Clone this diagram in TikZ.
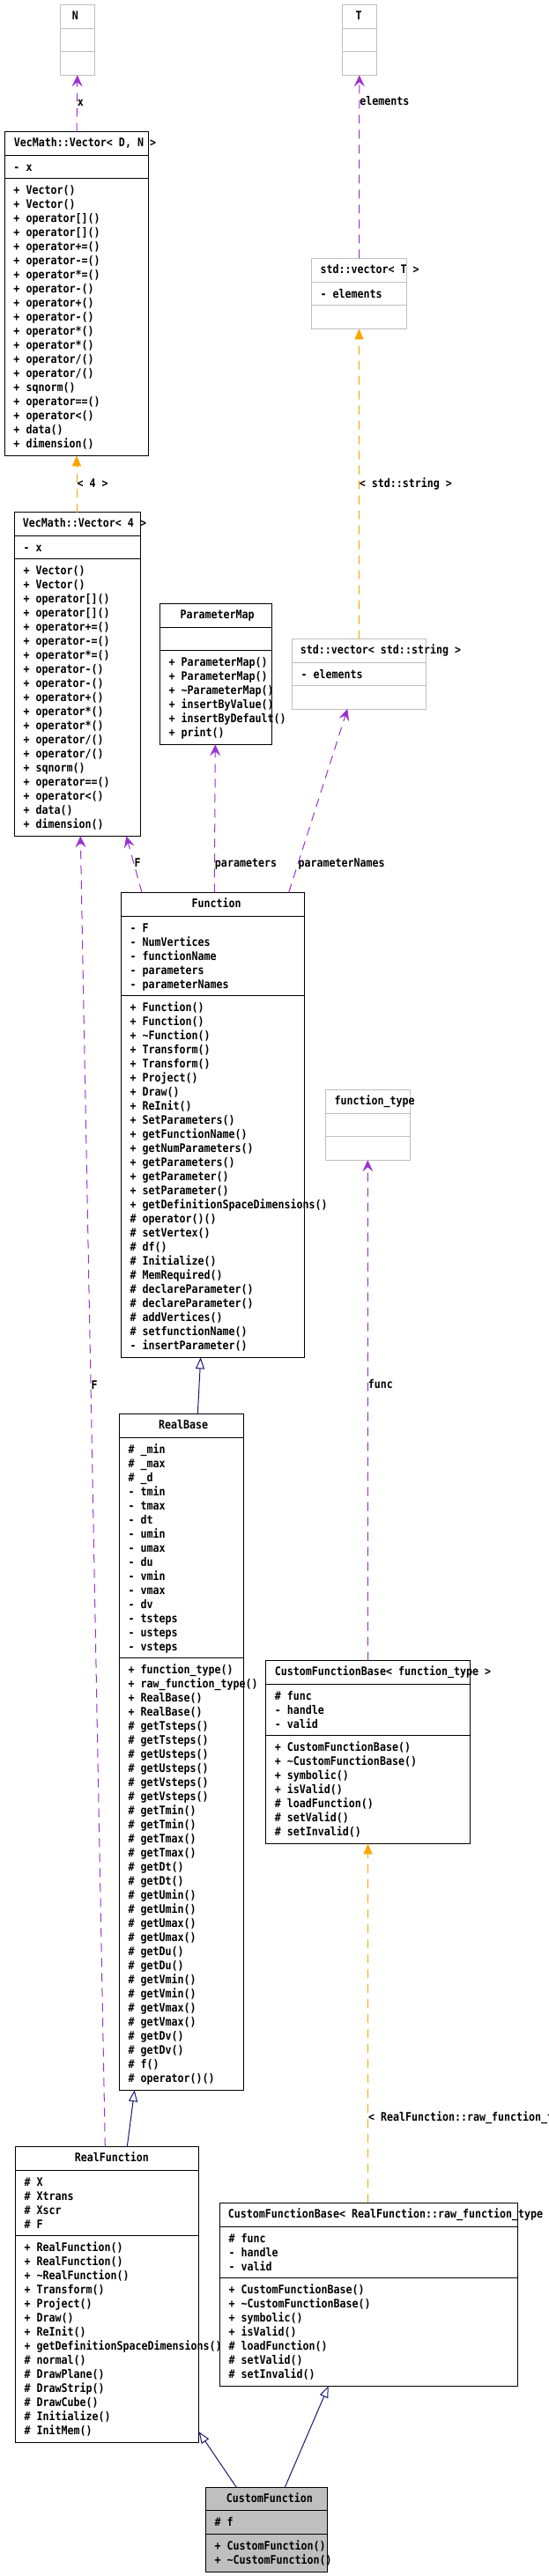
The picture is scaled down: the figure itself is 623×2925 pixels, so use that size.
\documentclass[tikz,border=0pt]{standalone}
\usepackage{fontspec}
\newfontfamily\dxmono{DejaVu Sans Mono}[FakeStretch=0.875]
\usepackage{tikz}
\usetikzlibrary{positioning}
\usetikzlibrary{arrows.meta}
\definecolor{edgepurple}{HTML}{9A32CD}
\definecolor{edgeorange}{HTML}{FFA500}
\definecolor{edgenavy}{HTML}{191970}
\definecolor{boxgray}{HTML}{BFBFBF}
\tikzset{
    classbox/.style = {rectangle, draw=black, line width=1pt, anchor=north west, inner sep=0pt, outer sep=0pt},
    classboxg/.style = {classbox, draw=boxgray},
    classboxf/.style = {classbox, fill=boxgray},
    classline/.style = {black, line width=1pt},
    classlineg/.style = {boxgray, line width=1pt},
    classtitle/.style = {anchor=base west, inner sep=0pt},
    classmembers/.style = {anchor=north west, inner sep=0pt, align=left},
    edgelabel/.style = {anchor=west, inner sep=0pt, text height=7pt, text depth=0pt, black},
    edgeu/.style = {edgepurple, line width=1pt, dash pattern=on 10pt off 7pt, -{Stealth[length=13pt,width=12pt,inset=5pt]}}, % usage
    edget/.style = {edgeorange, line width=1pt, dash pattern=on 10pt off 7pt, -{Triangle[length=12pt,width=10pt]}}, % template
    edgei/.style = {edgenavy, line width=1pt, -{Triangle[open,length=13pt,width=10pt]}} % inheritance
}
\begin{document}
\begin{tikzpicture}[x=1pt,y=-1pt,font=\dxmono\bfseries\fontsize{13.3}{16}\selectfont]
\fill[white] (0,0) rectangle (623,2925);
\useasboundingbox (0,0) rectangle (623,2925);
% N
\node[classboxg, minimum width=39pt, minimum height=80pt] at (68.3, 5.3) (nn) {};
\draw[classlineg] ([yshift=-27pt]nn.north west) -- ([yshift=-27pt]nn.north east);
\draw[classlineg] ([yshift=-53pt]nn.north west) -- ([yshift=-53pt]nn.north east);
\node[classtitle] at ([xshift=13.4pt,yshift=-17.2pt]nn.north west) (nn-t) {N};
% T
\node[classboxg, minimum width=39pt, minimum height=80pt] at (388.3, 5.3) (tt) {};
\draw[classlineg] ([yshift=-27pt]tt.north west) -- ([yshift=-27pt]tt.north east);
\draw[classlineg] ([yshift=-53pt]tt.north west) -- ([yshift=-53pt]tt.north east);
\node[classtitle] at ([xshift=15pt,yshift=-17.2pt]tt.north west) (tt-t) {T};
% VecMath::Vector< D, N >
\node[classbox, minimum width=163.4pt, minimum height=367.6pt] at (5.3, 149.7) (vecdn) {};
\draw[classline] ([yshift=-27pt]vecdn.north west) -- ([yshift=-27pt]vecdn.north east);
\draw[classline] ([yshift=-52.6pt]vecdn.north west) -- ([yshift=-52.6pt]vecdn.north east);
\node[classtitle] at ([xshift=10.4pt,yshift=-17.2pt]vecdn.north west) (vecdn-t) {VecMath::Vector< D, N >};
\node[classmembers] at ([xshift=10pt,yshift=-33.5pt]vecdn.north west) (vecdn-a) {\strut - x};
\node[classmembers] at ([xshift=10pt,yshift=-59.1pt]vecdn.north west) (vecdn-m) {\strut + Vector()\\+ Vector()\\+ operator[]()\\+ operator[]()\\+ operator+=()\\+ operator-=()\\+ operator*=()\\+ operator-()\\+ operator+()\\+ operator-()\\+ operator*()\\+ operator*()\\+ operator/()\\+ operator/()\\+ sqnorm()\\+ operator==()\\+ operator<()\\+ data()\\+ dimension()};
% std::vector< T >
\node[classboxg, minimum width=108.4pt, minimum height=80pt] at (353.3, 293.3) (svt) {};
\draw[classlineg] ([yshift=-27.4pt]svt.north west) -- ([yshift=-27.4pt]svt.north east);
\draw[classlineg] ([yshift=-53pt]svt.north west) -- ([yshift=-53pt]svt.north east);
\node[classtitle] at ([xshift=10pt,yshift=-17.2pt]svt.north west) (svt-t) {std::vector< T >};
\node[classmembers] at ([xshift=10pt,yshift=-33.9pt]svt.north west) (svt-a) {\strut - elements};
% VecMath::Vector< 4 >
\node[classbox, minimum width=143.4pt, minimum height=367.6pt] at (16.3, 581.7) (vec4) {};
\draw[classline] ([yshift=-27pt]vec4.north west) -- ([yshift=-27pt]vec4.north east);
\draw[classline] ([yshift=-53pt]vec4.north west) -- ([yshift=-53pt]vec4.north east);
\node[classtitle] at ([xshift=9.4pt,yshift=-17.2pt]vec4.north west) (vec4-t) {VecMath::Vector< 4 >};
\node[classmembers] at ([xshift=10pt,yshift=-33.5pt]vec4.north west) (vec4-a) {\strut - x};
\node[classmembers] at ([xshift=10pt,yshift=-59.5pt]vec4.north west) (vec4-m) {\strut + Vector()\\+ Vector()\\+ operator[]()\\+ operator[]()\\+ operator+=()\\+ operator-=()\\+ operator*=()\\+ operator-()\\+ operator-()\\+ operator+()\\+ operator*()\\+ operator*()\\+ operator/()\\+ operator/()\\+ sqnorm()\\+ operator==()\\+ operator<()\\+ data()\\+ dimension()};
% ParameterMap
\node[classbox, minimum width=127.4pt, minimum height=160pt] at (181.3, 685.3) (pmap) {};
\draw[classline] ([yshift=-27.4pt]pmap.north west) -- ([yshift=-27.4pt]pmap.north east);
\draw[classline] ([yshift=-53.4pt]pmap.north west) -- ([yshift=-53.4pt]pmap.north east);
\node[classtitle] at ([xshift=23pt,yshift=-17.2pt]pmap.north west) (pmap-t) {ParameterMap};
\node[classmembers] at ([xshift=10pt,yshift=-59.9pt]pmap.north west) (pmap-m) {\strut + ParameterMap()\\+ ParameterMap()\\+ \textasciitilde ParameterMap()\\+ insertByValue()\\+ insertByDefault()\\+ print()};
% std::vector< std::string >
\node[classboxg, minimum width=152pt, minimum height=79.3pt] at (331.3, 725.7) (svs) {};
\draw[classlineg] ([yshift=-27pt]svs.north west) -- ([yshift=-27pt]svs.north east);
\draw[classlineg] ([yshift=-52.6pt]svs.north west) -- ([yshift=-52.6pt]svs.north east);
\node[classtitle] at ([xshift=9.4pt,yshift=-17.2pt]svs.north west) (svs-t) {std::vector< std::string >};
\node[classmembers] at ([xshift=10pt,yshift=-33.5pt]svs.north west) (svs-a) {\strut - elements};
% Function
\node[classbox, minimum width=208.4pt, minimum height=528pt] at (137.3, 1013.3) (fn) {};
\draw[classline] ([yshift=-27pt]fn.north west) -- ([yshift=-27pt]fn.north east);
\draw[classline] ([yshift=-117pt]fn.north west) -- ([yshift=-117pt]fn.north east);
\node[classtitle] at ([xshift=80pt,yshift=-17.2pt]fn.north west) (fn-t) {Function};
\node[classmembers] at ([xshift=10pt,yshift=-33.5pt]fn.north west) (fn-a) {\strut - F\\- NumVertices\\- functionName\\- parameters\\- parameterNames};
\node[classmembers] at ([xshift=10pt,yshift=-123.5pt]fn.north west) (fn-m) {\strut + Function()\\+ Function()\\+ \textasciitilde Function()\\+ Transform()\\+ Transform()\\+ Project()\\+ Draw()\\+ ReInit()\\+ SetParameters()\\+ getFunctionName()\\+ getNumParameters()\\+ getParameters()\\+ getParameter()\\+ setParameter()\\+ getDefinitionSpaceDimensions()\\\# operator()()\\\# setVertex()\\\# df()\\\# Initialize()\\\# MemRequired()\\\# declareParameter()\\\# declareParameter()\\\# addVertices()\\\# setfunctionName()\\- insertParameter()};
% function_type
\node[classboxg, minimum width=96pt, minimum height=80pt] at (369.3, 1237.3) (ftype) {};
\draw[classlineg] ([yshift=-27pt]ftype.north west) -- ([yshift=-27pt]ftype.north east);
\draw[classlineg] ([yshift=-53pt]ftype.north west) -- ([yshift=-53pt]ftype.north east);
\node[classtitle] at ([xshift=10pt,yshift=-17.2pt]ftype.north west) (ftype-t) {function\_type};
% RealBase
\node[classbox, minimum width=141pt, minimum height=767.6pt] at (135.3, 1605.7) (rbase) {};
\draw[classline] ([yshift=-26.6pt]rbase.north west) -- ([yshift=-26.6pt]rbase.north east);
\draw[classline] ([yshift=-276.6pt]rbase.north west) -- ([yshift=-276.6pt]rbase.north east);
\node[classtitle] at ([xshift=44.7pt,yshift=-17.2pt]rbase.north west) (rbase-t) {RealBase};
\node[classmembers] at ([xshift=10pt,yshift=-33.1pt]rbase.north west) (rbase-a) {\strut \# \_min\\\# \_max\\\# \_d\\- tmin\\- tmax\\- dt\\- umin\\- umax\\- du\\- vmin\\- vmax\\- dv\\- tsteps\\- usteps\\- vsteps};
\node[classmembers] at ([xshift=10pt,yshift=-283.1pt]rbase.north west) (rbase-m) {\strut + function\_type()\\+ raw\_function\_type()\\+ RealBase()\\+ RealBase()\\\# getTsteps()\\\# getTsteps()\\\# getUsteps()\\\# getUsteps()\\\# getVsteps()\\\# getVsteps()\\\# getTmin()\\\# getTmin()\\\# getTmax()\\\# getTmax()\\\# getDt()\\\# getDt()\\\# getUmin()\\\# getUmin()\\\# getUmax()\\\# getUmax()\\\# getDu()\\\# getDu()\\\# getVmin()\\\# getVmin()\\\# getVmax()\\\# getVmax()\\\# getDv()\\\# getDv()\\\# f()\\\# operator()()};
% CustomFunctionBase< function_type >
\node[classbox, minimum width=231.6pt, minimum height=207.6pt] at (301.7, 1885.7) (cfbft) {};
\draw[classline] ([yshift=-26.6pt]cfbft.north west) -- ([yshift=-26.6pt]cfbft.north east);
\draw[classline] ([yshift=-84.6pt]cfbft.north west) -- ([yshift=-84.6pt]cfbft.north east);
\node[classtitle] at ([xshift=10pt,yshift=-17.2pt]cfbft.north west) (cfbft-t) {CustomFunctionBase< function\_type >};
\node[classmembers] at ([xshift=10pt,yshift=-33.1pt]cfbft.north west) (cfbft-a) {\strut \# func\\- handle\\- valid};
\node[classmembers] at ([xshift=10pt,yshift=-91.1pt]cfbft.north west) (cfbft-m) {\strut + CustomFunctionBase()\\+ \textasciitilde CustomFunctionBase()\\+ symbolic()\\+ isValid()\\\# loadFunction()\\\# setValid()\\\# setInvalid()};
% RealFunction
\node[classbox, minimum width=208.4pt, minimum height=336.3pt] at (17.3, 2437.4) (rfun) {};
\draw[classline] ([yshift=-27.4pt]rfun.north west) -- ([yshift=-27.4pt]rfun.north east);
\draw[classline] ([yshift=-101.1pt]rfun.north west) -- ([yshift=-101.1pt]rfun.north east);
\node[classtitle] at ([xshift=67.4pt,yshift=-17.2pt]rfun.north west) (rfun-t) {RealFunction};
\node[classmembers] at ([xshift=10pt,yshift=-33.9pt]rfun.north west) (rfun-a) {\strut \# X\\\# Xtrans\\\# Xscr\\\# F};
\node[classmembers] at ([xshift=10pt,yshift=-107.6pt]rfun.north west) (rfun-m) {\strut + RealFunction()\\+ RealFunction()\\+ \textasciitilde RealFunction()\\+ Transform()\\+ Project()\\+ Draw()\\+ ReInit()\\+ getDefinitionSpaceDimensions()\\\# normal()\\\# DrawPlane()\\\# DrawStrip()\\\# DrawCube()\\\# Initialize()\\\# InitMem()};
% CustomFunctionBase< RealFunction::raw_function_type >
\node[classbox, minimum width=338pt, minimum height=208pt] at (249.3, 2501.3) (cfbrf) {};
\draw[classline] ([yshift=-27.4pt]cfbrf.north west) -- ([yshift=-27.4pt]cfbrf.north east);
\draw[classline] ([yshift=-85pt]cfbrf.north west) -- ([yshift=-85pt]cfbrf.north east);
\node[classtitle] at ([xshift=9.4pt,yshift=-17.2pt]cfbrf.north west) (cfbrf-t) {CustomFunctionBase< RealFunction::raw\_function\_type >};
\node[classmembers] at ([xshift=10pt,yshift=-33.9pt]cfbrf.north west) (cfbrf-a) {\strut \# func\\- handle\\- valid};
\node[classmembers] at ([xshift=10pt,yshift=-91.5pt]cfbrf.north west) (cfbrf-m) {\strut + CustomFunctionBase()\\+ \textasciitilde CustomFunctionBase()\\+ symbolic()\\+ isValid()\\\# loadFunction()\\\# setValid()\\\# setInvalid()};
% CustomFunction
\node[classboxf, minimum width=138.4pt, minimum height=95.7pt] at (233.3, 2824.3) (cfun) {};
\draw[classline] ([yshift=-26pt]cfun.north west) -- ([yshift=-26pt]cfun.north east);
\draw[classline] ([yshift=-53pt]cfun.north west) -- ([yshift=-53pt]cfun.north east);
\node[classtitle] at ([xshift=23.4pt,yshift=-17.2pt]cfun.north west) (cfun-t) {CustomFunction};
\node[classmembers] at ([xshift=10pt,yshift=-32.5pt]cfun.north west) (cfun-a) {\strut \# f};
\node[classmembers] at ([xshift=10pt,yshift=-59.5pt]cfun.north west) (cfun-m) {\strut + CustomFunction()\\+ \textasciitilde CustomFunction()};
%
\draw[edgeu] (vecdn.north) -- (nn.south) node[edgelabel, pos=0.5] (lx) {x};
\draw[edgeu] (svt.north) -- (tt.south) node[edgelabel, pos=0.85] (lel) {elements};
\draw[edget] (vec4.north -| vecdn.south) -- (vecdn.south) node[edgelabel, pos=0.5] (l4) {< 4 >};
\draw[edget] (svs.north) -- (svt.south) node[edgelabel, pos=0.5] (lstr) {< std::string >};
\draw[edgeu] ([xshift=23.7pt]fn.north west) -- ([xshift=127pt]vec4.south west) node[edgelabel, pos=0.5] (lf1) {F};
\draw[edgeu] ([xshift=106pt]fn.north west) -- ([xshift=63pt]pmap.south west) node[edgelabel, pos=0.19] (lpar) {parameters};
\draw[edgeu] ([xshift=190.4pt]fn.north west) -- ([xshift=63pt]svs.south west) node[edgelabel, pos=0.155] (lpn) {parameterNames};
\draw[edgeu] ([xshift=102pt]rfun.north west) -- ([xshift=75pt]vec4.south west) node[edgelabel, pos=0.58] (lf2) {F};
\draw[edgei] ([xshift=89pt]rbase.north west) -- ([xshift=90.4pt]fn.south west);
\draw[edgeu] (cfbft.north) -- (ftype.south) node[edgelabel, pos=0.55] (lfunc) {func};
\draw[edgei] ([xshift=127pt]rfun.north west) -- ([xshift=17.4pt]rbase.south west);
\draw[edget] (cfbrf.north -| cfbft.south) -- (cfbft.south) node[edgelabel, pos=0.236] (lraw) {< RealFunction::raw\_function\_type >};
\draw[edgei] ([xshift=35pt]cfun.north west) -- ([yshift=12.4pt]rfun.south east);
\draw[edgei] ([xshift=90pt]cfun.north west) -- ([xshift=123.4pt]cfbrf.south west);

\end{tikzpicture}
\end{document}
